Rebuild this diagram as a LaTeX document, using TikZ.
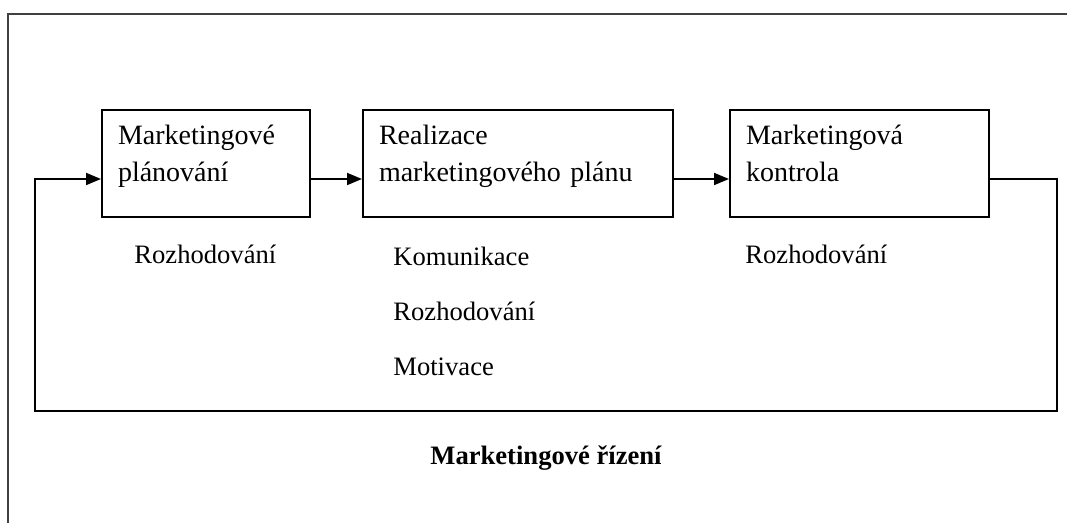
\documentclass[tikz,border=0pt]{standalone}
\usepackage{fontspec}
\setmainfont{Liberation Serif}
\usetikzlibrary{arrows.meta,positioning}
\newcommand{\boxfont}{\fontsize{14pt}{18.5pt}\selectfont}
\newcommand{\lblfont}{\fontsize{13.3pt}{16pt}\selectfont}
\tikzset{>={Triangle[length=7.5pt,width=6pt]}, % filled arrow heads
stage/.style={draw, line width=1pt, inner xsep=8pt, inner ysep=0pt,
  minimum width=#1, minimum height=53.5pt, text width=#1-16pt, align=left,
  text height=10pt, text depth=28.5pt, font=\boxfont}, % one box of the chain
lbl/.style={inner sep=0pt, anchor=base west, font=\lblfont}, % texts under the boxes
flow/.style={line width=0.9pt}, % the connectors
}

\begin{document}
\begin{tikzpicture}[x=0.5pt, y=-0.5pt]
\useasboundingbox (0,0) rectangle (1067,523);
\draw[black!75, line width=1.2pt] (8,523) -- (8,14) -- (1067,14);
\node[stage=104pt] (plan) at (206,163.5) {Marketingové\\plánování};
\node[stage=155pt, right=25.5pt of plan] (real) {Realizace\\marketingového plánu};
\node[stage=129.5pt, right=27.5pt of real] (ctrl) {Marketingová\\kontrola};
\node[lbl] (dec1) at ([xshift=16.5pt, yshift=-23pt]plan.south west) {Rozhodování};
\node[lbl] (komun) at ([xshift=15.5pt, yshift=-24pt]real.south west) {Komunikace};
\node[lbl] (dec2) at ([yshift=-27.5pt]komun.base west) {Rozhodování};
\node[lbl] (motiv) at ([yshift=-27.5pt]dec2.base west) {Motivace};
\node[lbl] (dec3) at ([xshift=8pt, yshift=-23pt]ctrl.south west) {Rozhodování};
\node[inner sep=0pt, anchor=base, font=\lblfont\bfseries] (title) at (546,465) {Marketingové řízení};
\coordinate (fbR) at (1057,411);
\coordinate (fbL) at (35,411);
\draw[flow, ->] ([yshift=-7.75pt]plan.east) -- ([yshift=-7.75pt]real.west);
\draw[flow, ->] ([yshift=-7.75pt]real.east) -- ([yshift=-7.75pt]ctrl.west);
\draw[flow, ->] ([yshift=-7.75pt]ctrl.east) -| (fbR) -- (fbL) |- ([yshift=-7.75pt]plan.west);
\end{tikzpicture}
\end{document}
